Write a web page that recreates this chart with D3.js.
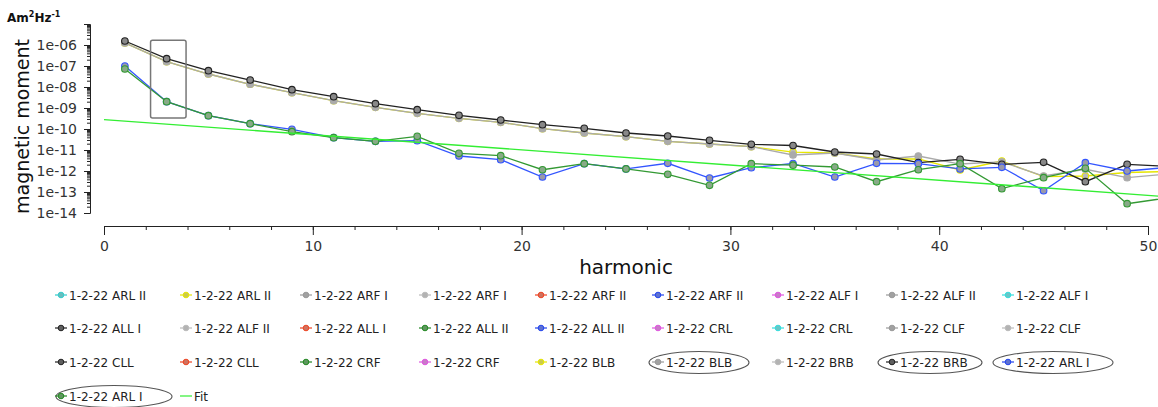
<!DOCTYPE html>
<html><head><meta charset="utf-8">
<script src="https://cdn.jsdelivr.net/npm/d3@7"></script>
<style>body{margin:0;background:#fff}svg{display:block}</style>
</head><body><svg id="c" width="1158" height="407"></svg>
<script>
// ---------------- data ----------------
const harmonics = [1,3,5,7,9,11,13,15,17,19,21,23,25,27,29,31,33,35,37,39,41,43,45,47,49,51];
const brbBlack = [1.55e-6,2.23e-7,5.97e-8,2.15e-8,7.43e-9,3.45e-9,1.60e-9,8.30e-10,4.49e-10,2.68e-10,1.60e-10,1.08e-10,6.45e-11,4.65e-11,2.90e-11,1.87e-11,1.64e-11,8.03e-12,6.45e-12,2.49e-12,3.61e-12,2.08e-12,2.60e-12,3.09e-13,2.08e-12,1.64e-12];
const blbGray = [1.25e-6,1.60e-7,4.16e-8,1.35e-8,5.36e-9,2.23e-9,1.08e-9,5.60e-10,3.23e-10,2.08e-10,1.03e-10,6.45e-11,4.30e-11,2.60e-11,1.93e-11,1.44e-11,5.78e-12,7.2e-12,3.34e-12,5.18e-12,2.15e-12,2.69e-12,5.78e-13,1.21e-12,4.80e-13,7.2e-13];
const blbYellow = [1.25e-6,1.60e-7,4.16e-8,1.35e-8,5.36e-9,2.23e-9,1.08e-9,5.60e-10,3.23e-10,2.08e-10,1.03e-10,6.45e-11,4.30e-11,2.60e-11,1.93e-11,1.44e-11,8.0e-12,7.2e-12,3.73e-12,3.73e-12,1.12e-12,2.99e-12,5.36e-13,5.78e-13,8.5e-13,9.5e-13];
const arlBlue = [1.0e-7,2.0e-9,4.30e-10,1.79e-10,9.7e-11,3.86e-11,2.60e-11,2.77e-11,5.18e-12,3.45e-12,5.18e-13,2.23e-12,1.25e-12,2.33e-12,4.64e-13,1.44e-12,2.28e-12,5.18e-13,2.33e-12,2.23e-12,1.25e-12,1.50e-12,1.15e-13,2.49e-12,1.0e-12,1.50e-12];
const arlGreen = [7.2e-8,2.0e-9,4.30e-10,1.79e-10,7.43e-11,3.86e-11,2.60e-11,4.49e-11,6.97e-12,5.36e-12,1.15e-12,2.23e-12,1.25e-12,6.97e-13,2.08e-13,2.23e-12,1.89e-12,1.55e-12,3.09e-13,1.15e-12,2.23e-12,1.44e-13,4.80e-13,1.34e-12,2.77e-14,5.36e-14];
const fitHarmonics = [0, 51];
const fitValues = [2.81e-10, 5.85e-14];

const xTickValues = [0,10,20,30,40,50];
const xTickLabels = ["0","10","20","30","40","50"];
const yTickValues = [1e-14,1e-13,1e-12,1e-11,1e-10,1e-9,1e-8,1e-7,1e-6];
const yTickLabels = ["1e-14","1e-13","1e-12","1e-11","1e-10","1e-09","1e-08","1e-07","1e-06"];

const legendNames = [
 "1-2-22 ARL II","1-2-22 ARL II","1-2-22 ARF I","1-2-22 ARF I","1-2-22 ARF II","1-2-22 ARF II","1-2-22 ALF I","1-2-22 ALF II","1-2-22 ALF I",
 "1-2-22 ALL I","1-2-22 ALF II","1-2-22 ALL I","1-2-22 ALL II","1-2-22 ALL II","1-2-22 CRL","1-2-22 CRL","1-2-22 CLF","1-2-22 CLF",
 "1-2-22 CLL","1-2-22 CLL","1-2-22 CRF","1-2-22 CRF","1-2-22 BLB","1-2-22 BLB","1-2-22 BRB","1-2-22 BRB","1-2-22 ARL I",
 "1-2-22 ARL I","Fit"];
const legendColors = [
 "#33cccc","#e6e600","#999999","#bbbbbb","#ee4422","#2244ee","#e055e0","#999999","#33dddd",
 "#222222","#bbbbbb","#ee4422","#228822","#2244ee","#e055e0","#33dddd","#999999","#bbbbbb",
 "#222222","#ee4422","#228822","#e055e0","#e6e600","#999999","#bbbbbb","#222222","#2244ee",
 "#228822","#33ee33"];
const legendCircled = [
 0,0,0,0,0,0,0,0,0,
 0,0,0,0,0,0,0,0,0,
 0,0,0,0,0,1,0,1,1,
 1,0];
const legendIsLine = legendNames.map(n => n === "Fit");

// ---------------- layout ----------------
const svg = d3.select("#c");
const x = d3.scaleLinear().domain([0, 50]).range([104, 1148]);
const y = d3.scaleLog().domain([1e-14, 1e-5]).range([213, 24]);
const xAxisY = 226, yAxisX = 90;
const FONT = "DejaVu Sans, Verdana, sans-serif";

// x axis minor + major
const xMinor = d3.range(0, 51, 2);
svg.append("g").attr("transform", `translate(0,${xAxisY})`)
  .call(d3.axisBottom(x).tickValues(xMinor).tickSize(4).tickSizeOuter(0).tickFormat(""))
  .call(g => g.selectAll("line,path").attr("stroke", "#222"));
svg.append("g").attr("transform", `translate(0,${xAxisY})`)
  .call(d3.axisBottom(x).tickValues(xTickValues).tickSize(9).tickSizeOuter(0).tickPadding(6)
        .tickFormat((d, i) => xTickLabels[i]))
  .call(g => g.selectAll("line,path").attr("stroke", "#222"))
  .call(g => g.selectAll("text").attr("font-family", FONT).attr("font-size", 14).attr("fill", "#333"));

// y axis minor + major
const yMinor = [];
yTickValues.forEach(v => { for (let m = 1; m <= 9; m++) yMinor.push(v * m); });
yMinor.push(1e-5);
svg.append("g").attr("transform", `translate(${yAxisX},0)`)
  .call(d3.axisLeft(y).tickValues(yMinor).tickSize(3).tickSizeOuter(0).tickFormat(""))
  .call(g => g.selectAll("line,path").attr("stroke", "#222"));
svg.append("g").attr("transform", `translate(${yAxisX},0)`)
  .call(d3.axisLeft(y).tickValues(yTickValues.concat([1e-5])).tickSize(6).tickSizeOuter(0).tickPadding(7)
        .tickFormat(d => { const i = yTickValues.indexOf(d); return i < 0 ? "" : yTickLabels[i]; }))
  .call(g => g.selectAll("line,path").attr("stroke", "#222"))
  .call(g => g.selectAll("text").attr("font-family", FONT).attr("font-size", 14).attr("fill", "#333"));

// axis titles
svg.append("text").attr("x", (x.range()[0] + x.range()[1]) / 2).attr("y", 274)
  .attr("text-anchor", "middle").attr("font-family", FONT).attr("font-size", 20).attr("fill", "#111")
  .text("harmonic");
svg.append("text").attr("transform", `translate(29,${(y.range()[0] + y.range()[1]) / 2 + 8}) rotate(-90)`)
  .attr("text-anchor", "middle").attr("font-family", FONT).attr("font-size", 19).attr("fill", "#111")
  .text("magnetic moment");
const unit = svg.append("text").attr("x", 7).attr("y", 22).attr("font-family", FONT)
  .attr("font-size", 12).attr("font-weight", "bold").attr("fill", "#111");
unit.append("tspan").text("Am");
unit.append("tspan").attr("font-size", 8).attr("dy", -5).text("2");
unit.append("tspan").attr("dy", 5).text("Hz");
unit.append("tspan").attr("font-size", 8).attr("dy", -5).text("-1");

// ---------------- series ----------------
const series = [
  {vals: blbYellow, stroke: "#e6e600", fill: "#bbbbbb"},
  {vals: blbGray,   stroke: "#aaaaaa", fill: "#aaaaaa"},
  {vals: brbBlack,  stroke: "#222222", fill: "#888888"},
  {vals: arlBlue,   stroke: "#3355ff", fill: "#9999aa"},
  {vals: arlGreen,  stroke: "#339933", fill: "#88aa88"},
];
const line = d3.line().x(d => x(d[0])).y(d => y(d[1]));
series.forEach(s => {
  const pts = harmonics.map((h, i) => [h, s.vals[i]]);
  svg.append("path").datum(pts).attr("d", line).attr("fill", "none")
    .attr("stroke", s.stroke).attr("stroke-width", 1.3);
  svg.append("g").selectAll("circle").data(pts).join("circle")
    .attr("cx", d => x(d[0])).attr("cy", d => y(d[1])).attr("r", 3.3)
    .attr("fill", s.fill).attr("stroke", s.stroke).attr("stroke-width", 1.1);
});
// fit
svg.append("path").datum(fitHarmonics.map((h, i) => [h, fitValues[i]])).attr("d", line)
  .attr("fill", "none").attr("stroke", "#33ee33").attr("stroke-width", 1.4);

// selection box around harmonic 3
const selBox = {h0: 2.23, h1: 3.93, vTop: 1.7e-6, vBottom: 3.3e-10};
svg.append("rect").attr("x", x(selBox.h0)).attr("y", y(selBox.vTop))
  .attr("width", x(selBox.h1) - x(selBox.h0)).attr("height", y(selBox.vBottom) - y(selBox.vTop))
  .attr("rx", 2).attr("fill", "none").attr("stroke", "#777").attr("stroke-width", 1.5);

// ---------------- legend ----------------
const colX = [61, 186, 306, 425, 541, 658, 778, 892, 1008];
const rowY = [295, 328, 362, 396];
// ellipse placement (offset of centre from marker, horizontal radius) for circled entries
const ellipseGeom = {23: [41, 50], 25: [38, 52], 26: [45, 60], 27: [53, 58]};
const leg = svg.append("g");
legendNames.forEach((name, i) => {
  const r = Math.floor(i / 9), c = i % 9;
  const cx = colX[c], cy = rowY[r];
  const col = legendColors[i];
  const g = leg.append("g");
  if (legendCircled[i]) {
    const [off, rx] = ellipseGeom[i];
    g.append("ellipse").attr("cx", cx + off).attr("cy", cy + 0.5).attr("rx", rx).attr("ry", 11)
      .attr("fill", "none").attr("stroke", "#555").attr("stroke-width", 1.1);
  }
  g.append("line").attr("x1", cx - 6).attr("x2", cx + 6).attr("y1", cy).attr("y2", cy)
    .attr("stroke", col).attr("stroke-width", 1.2);
  if (!legendIsLine[i]) {
    g.append("circle").attr("cx", cx).attr("cy", cy).attr("r", 2.8)
      .attr("fill", d3.interpolateRgb(col, "#aaaaaa")(0.45)).attr("stroke", col).attr("stroke-width", 1);
  }
  g.append("text").attr("x", cx + 8).attr("y", cy + 4.5).attr("font-family", FONT)
    .attr("font-size", 12).attr("fill", "#222").text(name);
});
</script></body></html>
